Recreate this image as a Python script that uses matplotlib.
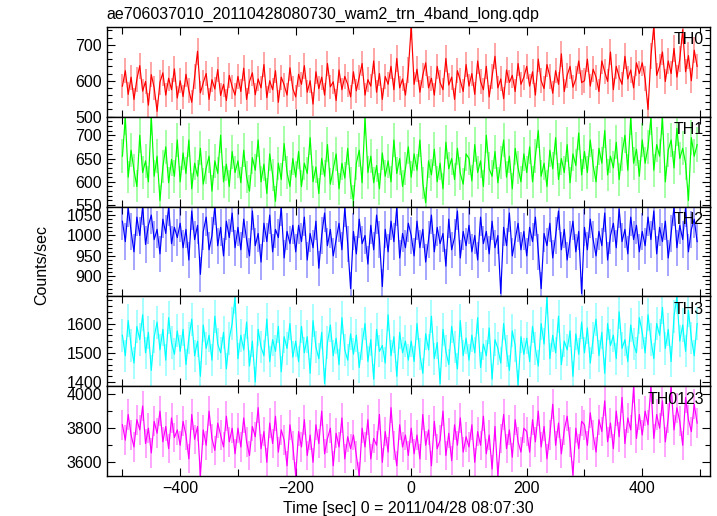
import numpy as np
import matplotlib.pyplot as plt
from matplotlib.ticker import MultipleLocator

# --- data: light curves (5 s samples, t = -500 ... 495) ---
TITLE = "ae706037010_20110428080730_wam2_trn_4band_long.qdp"
XLABEL = "Time [sec] 0 = 2011/04/28 08:07:30"
YLABEL = "Counts/sec"
BANDS = ["TH0", "TH1", "TH2", "TH3", "TH0123"]
COLORS = ["#ff0000", "#00ff00", "#0000ff", "#00ffff", "#ff00ff"]
BIN_SEC = 0.5  # original time bin, used for the Poisson error bars

time_sec = np.arange(-500, 500, 5)

th0 = [
    585, 628, 562, 610, 548, 604, 642, 571, 598, 532, 617, 580, 515, 596, 622, 560, 607, 575, 633, 552,
    600, 556, 618, 573, 540, 612, 682, 566, 595, 620, 548, 603, 577, 631, 559, 590, 545, 615, 583, 560,
    612, 570, 635, 548, 598, 622, 561, 605, 580, 645, 553, 600, 575, 628, 540, 610, 588, 560, 636, 578,
    555, 618, 590, 642, 568, 600, 535, 625, 578, 610, 560, 648, 583, 597, 545, 630, 575, 612, 590, 555,
    625, 572, 610, 648, 560, 603, 585, 655, 568, 620, 548, 612, 590, 640, 575, 662, 580, 605, 560, 630,
    752, 590, 632, 568, 615, 650, 580, 607, 560, 640, 595, 575, 662, 588, 610, 548, 628, 600, 570, 645,
    585, 620, 562, 655, 598, 575, 640, 555, 612, 668, 580, 605, 550, 630, 595, 615, 570, 648, 590, 610,
    640, 585, 625, 560, 660, 600, 578, 645, 612, 565, 628, 590, 675, 570, 615, 640, 582, 605, 655, 595,
    600, 660, 585, 632, 610, 570, 655, 625, 598, 680, 575, 640, 610, 590, 668, 605, 630, 580, 650, 620,
    650, 605, 520, 668, 752, 615, 640, 680, 598, 655, 620, 690, 610, 660, 742, 625, 670, 600, 685, 640,
]
th1 = [
    655, 738, 610, 668, 625, 590, 700, 620, 645, 600, 740, 612, 655, 560, 632, 675, 598, 648, 612, 690,
    600, 662, 618, 690, 585, 640, 612, 672, 595, 630, 655, 580, 645, 618, 700, 600, 638, 590, 665, 620,
    645, 598, 668, 610, 580, 652, 625, 690, 600, 638, 575, 660, 615, 558, 640, 605, 682, 620, 590, 650,
    610, 665, 590, 640, 618, 695, 600, 632, 575, 650, 612, 680, 595, 628, 660, 585, 640, 608, 672, 598,
    560, 640, 668, 598, 738, 620, 655, 598, 635, 585, 662, 612, 645, 600, 690, 618, 650, 590, 628, 675,
    610, 660, 625, 690, 598, 555, 645, 615, 670, 600, 640, 585, 685, 628, 650, 605, 672, 618, 595, 660,
    650, 602, 680, 620, 645, 590, 700, 628, 612, 665, 598, 642, 690, 610, 655, 585, 672, 630, 600, 660,
    620, 675, 600, 655, 710, 612, 640, 590, 668, 628, 695, 605, 650, 620, 680, 598, 660, 635, 705, 615,
    665, 620, 690, 635, 600, 672, 640, 710, 615, 655, 630, 685, 605, 660, 700, 625, 738, 640, 670, 612,
    690, 640, 675, 738, 625, 680, 655, 738, 600, 668, 690, 630, 715, 650, 672, 640, 560, 695, 655, 680,
]
th2 = [
    1035, 985, 1068, 1010, 960, 1045, 1000, 1072, 978, 1025, 1050, 990, 1015, 955, 1040, 1005, 1070, 980, 1020, 995,
    1030, 970, 1015, 940, 1060, 990, 1025, 905, 1010, 1045, 965, 1000, 1072, 975, 1020, 950, 1035, 995, 1055, 970,
    1020, 965, 1040, 990, 950, 1060, 975, 1005, 935, 1030, 985, 1050, 960, 1015, 995, 1070, 945, 1010, 980, 1025,
    960, 1025, 985, 1045, 940, 1005, 970, 1035, 920, 1000, 1055, 975, 1015, 950, 990, 1030, 965, 1068, 980, 870,
    1010, 955, 1040, 980, 1000, 930, 1025, 965, 1050, 990, 875, 1015, 960, 1035, 985, 1070, 945, 1005, 970, 1030,
    1000, 950, 1035, 970, 1015, 935, 990, 1050, 960, 1020, 980, 1005, 925, 1040, 965, 995, 1060, 945, 1010, 975,
    1025, 960, 1000, 940, 1045, 980, 1010, 955, 1035, 970, 1000, 858, 1020, 975, 1055, 950, 990, 1030, 965, 1010,
    950, 1020, 985, 1045, 960, 870, 1005, 975, 1030, 945, 1000, 1060, 965, 1015, 940, 990, 1035, 960, 1010, 858,
    1020, 965, 1040, 990, 950, 1010, 975, 1055, 940, 1000, 1030, 970, 1065, 985, 1015, 955, 1045, 990, 1025, 960,
    1010, 975, 1045, 990, 1060, 955, 1020, 985, 1035, 945, 1005, 1070, 970, 1025, 990, 1068, 960, 1015, 1040, 985,
]
th3 = [
    1560, 1490, 1610, 1525, 1465, 1590, 1545, 1630, 1500, 1570, 1440, 1555, 1605, 1510, 1580, 1475, 1620, 1535, 1495, 1575,
    1505, 1580, 1460, 1550, 1615, 1490, 1540, 1420, 1595, 1515, 1560, 1475, 1625, 1530, 1500, 1570, 1445, 1548, 1600, 1690,
    1480, 1560, 1510, 1605, 1455, 1540, 1400, 1580, 1520, 1490, 1615, 1470, 1545, 1505, 1590, 1435, 1555, 1515, 1600, 1485,
    1540, 1470, 1590, 1500, 1555, 1430, 1610, 1520, 1480, 1570, 1395, 1535, 1595, 1490, 1550, 1460, 1620, 1510, 1475, 1565,
    1495, 1560, 1450, 1530, 1600, 1470, 1545, 1410, 1580, 1505, 1525, 1465, 1630, 1490, 1555, 1420, 1570, 1500, 1540, 1475,
    1540, 1470, 1600, 1495, 1430, 1565, 1510, 1625, 1480, 1535, 1395, 1580, 1505, 1460, 1590, 1520, 1445, 1610, 1490, 1550,
    1475, 1560, 1500, 1620, 1450, 1530, 1490, 1585, 1410, 1545, 1515, 1465, 1600, 1505, 1440, 1575, 1525, 1390, 1555, 1495,
    1550, 1470, 1590, 1515, 1455, 1600, 1530, 1692, 1480, 1560, 1500, 1625, 1460, 1540, 1510, 1575, 1420, 1565, 1495, 1605,
    1500, 1585, 1465, 1550, 1615, 1490, 1570, 1430, 1600, 1525, 1560, 1480, 1640, 1515, 1545, 1470, 1595, 1530, 1500, 1620,
    1570, 1500, 1630, 1545, 1480, 1600, 1560, 1655, 1515, 1580, 1470, 1625, 1692, 1540, 1595, 1505, 1645, 1550, 1490, 1600,
]
th0123 = [
    3820, 3730, 3880, 3760, 3690, 3850, 3790, 3930, 3710, 3800, 3655, 3840, 3770, 3900, 3720, 3810, 3680, 3860, 3745, 3790,
    3700, 3840, 3760, 3620, 3880, 3735, 3810, 3520, 3790, 3700, 3900, 3740, 3670, 3830, 3760, 3690, 3870, 3720, 3800, 3650,
    3800, 3690, 3860, 3720, 3640, 3810, 3750, 3920, 3680, 3780, 3600, 3830, 3710, 3870, 3660, 3790, 3730, 3580, 3820, 3700,
    3520, 3780, 3690, 3850, 3640, 3760, 3600, 3820, 3710, 3900, 3650, 3740, 3800, 3580, 3770, 3690, 3860, 3620, 3750, 3680,
    3760, 3640, 3520, 3800, 3690, 3850, 3620, 3740, 3700, 3880, 3600, 3780, 3660, 3920, 3700, 3580, 3820, 3690, 3760, 3640,
    3800, 3650, 3760, 3620, 3880, 3700, 3790, 3580, 3840, 3680, 3730, 3900, 3640, 3770, 3610, 3820, 3700, 3860, 3660, 3750,
    3690, 3820, 3600, 3780, 3700, 3870, 3650, 3760, 3560, 3810, 3520, 3740, 3880, 3680, 3790, 3630, 3850, 3720, 3660, 3800,
    3780, 3660, 3850, 3720, 3900, 3690, 3810, 3620, 3760, 3940, 3700, 3830, 3650, 3790, 3870, 3720, 3525, 3800, 3680, 3840,
    3820, 3700, 3890, 3760, 3660, 3850, 3780, 3960, 3720, 3830, 3680, 3900, 3750, 3980, 3710, 3860, 3790, 4040, 3740, 3880,
    3760, 3900, 3820, 4046, 3740, 3880, 3800, 3960, 3720, 3860, 4046, 3790, 3920, 3840, 3700, 3980, 3850, 3780, 3940, 3830,
]
series = [th0, th1, th2, th3, th0123]

# axis ranges and tick steps per panel (major, minor)
YLIMS = [(500, 750), (547, 740), (851, 1071), (1386, 1693), (3520, 4046)]
YTICKS = [(100, 20), (50, 10), (50, 10), (100, 20), (200, 100)]
XLIM = (-527, 517)

plt.rcParams['font.family'] = ['Liberation Sans', 'DejaVu Sans']
plt.rcParams['font.size'] = 11.5

fig, axes = plt.subplots(5, 1, sharex=True, figsize=(7.17, 5.16), dpi=100)
fig.subplots_adjust(left=0.149, right=0.990, top=0.948, bottom=0.0775, hspace=0)

for ax, y, name, col, ylim, (maj, mnr) in zip(axes, series, BANDS, COLORS, YLIMS, YTICKS):
    y = np.asarray(y, dtype=float)
    yerr = np.sqrt(y / BIN_SEC)
    # pale error bars behind the light curve
    ax.errorbar(time_sec, y, yerr=yerr, fmt='none', ecolor=col, elinewidth=1.1,
                alpha=0.45, capsize=0)
    ax.plot(time_sec, y, color=col, lw=0.85)
    ax.set_xlim(*XLIM)
    ax.set_ylim(*ylim)
    ax.yaxis.set_major_locator(MultipleLocator(maj))
    ax.yaxis.set_minor_locator(MultipleLocator(mnr))
    ax.xaxis.set_major_locator(MultipleLocator(200))
    ax.xaxis.set_minor_locator(MultipleLocator(100))
    ax.tick_params(which='both', direction='in', top=True, right=True)
    ax.tick_params(which='major', length=6, width=0.8)
    ax.tick_params(which='minor', length=3.5, width=0.8)
    ax.tick_params(axis='x', which='minor', length=5)
    ax.text(0.99, 0.855, name, transform=ax.transAxes, ha='right', va='center')
    for s in ax.spines.values():
        s.set_linewidth(1.0)

fig.text(0.149, 0.973, TITLE, ha='left', va='center')
fig.text(0.058, 0.486, YLABEL, rotation=90, ha='center', va='center')
fig.text(0.57, 0.0155, XLABEL, ha='center', va='center')

fig.savefig("out.png", dpi=100)
